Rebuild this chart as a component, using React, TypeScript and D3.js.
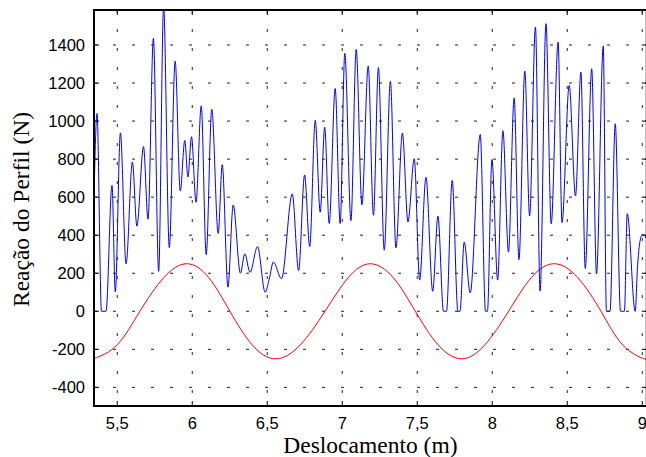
import React, { useEffect, useRef } from "react";
import * as d3 from "d3";

const reactionX = [
  5.343, 5.365, 5.395, 5.425, 5.465, 5.487, 5.521, 5.559, 5.601, 5.631,
  5.675, 5.705, 5.741, 5.776, 5.809, 5.847, 5.886, 5.92, 5.95, 5.971,
  5.995, 6.025, 6.06, 6.093, 6.13, 6.173, 6.2, 6.238, 6.273, 6.321,
  6.35, 6.385, 6.435, 6.486, 6.513, 6.541, 6.595, 6.667, 6.709, 6.749,
  6.783, 6.82, 6.853, 6.883, 6.913, 6.953, 6.986, 7.017, 7.058, 7.093,
  7.131, 7.173, 7.208, 7.241, 7.28, 7.321, 7.358, 7.401, 7.438, 7.48,
  7.516, 7.558, 7.603, 7.638, 7.675, 7.695, 7.733, 7.771, 7.785, 7.813,
  7.853, 7.92, 7.955, 7.968, 7.998, 8.036, 8.071, 8.108, 8.146, 8.178,
  8.217, 8.249, 8.288, 8.319, 8.358, 8.393, 8.439, 8.465, 8.513, 8.555,
  8.591, 8.62, 8.663, 8.695, 8.74, 8.761, 8.785, 8.82, 8.855, 8.881,
  8.9, 8.953, 8.969, 8.989, 9.004, 9.025,
];
const reactionY = [
  519, 1040, 0, 0, 662, 102, 938, 249, 785, 448,
  866, 484, 1435, 210, 1600, 335, 1315, 632, 898, 706,
  918, 573, 1080, 298, 1062, 409, 771, 127, 559, 200,
  302, 205, 340, 100, 168, 259, 171, 617, 214, 717,
  340, 1004, 521, 968, 462, 1171, 461, 1356, 477, 1377,
  560, 1290, 505, 1281, 321, 1209, 333, 937, 470, 802,
  164, 705, 105, 500, 0, 0, 688, 0, 0, 364,
  97, 929, 0, 0, 798, 164, 949, 311, 1122, 272,
  1263, 501, 1495, 106, 1512, 460, 1415, 466, 1188, 606,
  1258, 225, 1275, 196, 1394, 0, 0, 986, 0, 0,
  513, 0, 242, 383, 405, 385,
];

// profile curve (red)
const profileX = [
  5.34, 5.5, 5.651, 5.81, 5.963, 6.11, 6.251, 6.4, 6.556, 6.72,
  6.885, 7.04, 7.187, 7.34, 7.487, 7.64, 7.796, 7.95, 8.109, 8.26,
  8.413, 8.57, 8.725, 8.87, 9.013, 9.04,
];
const profileY = [
  -250, -176, 0, 177, 250, 177, 0, -177, -250, -177,
  0, 177, 250, 177, 0, -177, -250, -177, 0, 177,
  250, 177, 0, -177, -250, -248,
];

const xTicks = [5.5, 6, 6.5, 7, 7.5, 8, 8.5, 9];
const yTicks = [-400, -200, 0, 200, 400, 600, 800, 1000, 1200, 1400];

const W = 646;
const H = 457;
const left = 94;
const right = 646.75;
const top = 10;
const bottom = 406;

export default function App() {
  const node = useRef<SVGSVGElement>(null);

  useEffect(() => {
    const svg = d3.select(node.current);
    svg.selectAll("*").remove();

    const x = d3.scaleLinear().domain([5.345, 9.03]).range([left, right]);
    const y = d3.scaleLinear().domain([-498, 1584]).range([bottom, top]);

    svg.append("rect").attr("width", W).attr("height", H).attr("fill", "#fff");

    svg
      .append("clipPath")
      .attr("id", "plot-clip")
      .append("rect")
      .attr("x", left)
      .attr("y", top)
      .attr("width", right - left)
      .attr("height", bottom - top);

    // dotted grid
    const grid = svg.append("g").attr("stroke", "#222").attr("stroke-width", 1).attr("stroke-dasharray", "3,16");
    grid
      .selectAll("line.gx")
      .data(xTicks)
      .enter()
      .append("line")
      .attr("x1", d => x(d))
      .attr("x2", d => x(d))
      .attr("y1", top)
      .attr("y2", bottom);
    grid
      .selectAll("line.gy")
      .data(yTicks)
      .enter()
      .append("line")
      .attr("x1", left)
      .attr("x2", right)
      .attr("y1", d => y(d))
      .attr("y2", d => y(d));

    const plot = svg.append("g").attr("clip-path", "url(#plot-clip)");

    const profile = d3
      .line<number>()
      .x((_, i) => x(profileX[i]))
      .y(d => y(d))
      .curve(d3.curveNatural);
    plot
      .append("path")
      .attr("d", profile(profileY))
      .attr("fill", "none")
      .attr("stroke", "#ff0000")
      .attr("stroke-width", 1);

    const reaction = d3
      .line<number>()
      .x((_, i) => x(reactionX[i]))
      .y(d => y(d))
      .curve(d3.curveMonotoneX);
    plot
      .append("path")
      .attr("d", reaction(reactionY))
      .attr("fill", "none")
      .attr("stroke", "#0000ff")
      .attr("stroke-width", 1);

    // box and inward ticks
    const axes = svg.append("g").attr("stroke", "#000");
    axes
      .append("rect")
      .attr("x", left)
      .attr("y", top)
      .attr("width", right - left)
      .attr("height", bottom - top)
      .attr("fill", "none")
      .attr("stroke-width", 2);
    xTicks.forEach(t => {
      axes.append("line").attr("x1", x(t)).attr("x2", x(t)).attr("y1", bottom).attr("y2", bottom - 5);
      axes.append("line").attr("x1", x(t)).attr("x2", x(t)).attr("y1", top).attr("y2", top + 5);
    });
    yTicks.forEach(t => {
      axes.append("line").attr("x1", left).attr("x2", left + 5).attr("y1", y(t)).attr("y2", y(t));
      axes.append("line").attr("x1", right).attr("x2", right - 5).attr("y1", y(t)).attr("y2", y(t));
    });

    const sans = "'Liberation Sans', Arial, sans-serif";
    const serif = "'Liberation Serif', 'Times New Roman', serif";

    svg
      .append("g")
      .selectAll("text")
      .data(xTicks)
      .enter()
      .append("text")
      .attr("x", d => x(d))
      .attr("y", 428.5)
      .attr("text-anchor", "middle")
      .attr("font-family", sans)
      .attr("font-size", 16.5)
      .text(d => String(d).replace(".", ","));

    svg
      .append("g")
      .selectAll("text")
      .data(yTicks)
      .enter()
      .append("text")
      .attr("x", 85)
      .attr("y", d => y(d) + 5.7)
      .attr("text-anchor", "end")
      .attr("font-family", sans)
      .attr("font-size", 16.5)
      .text(d => String(d));

    svg
      .append("text")
      .attr("x", (left + right) / 2)
      .attr("y", 453)
      .attr("text-anchor", "middle")
      .attr("font-family", serif)
      .attr("font-size", 23.5)
      .text("Deslocamento (m)");

    svg
      .append("text")
      .attr("transform", "rotate(-90)")
      .attr("x", -209.5)
      .attr("y", 29)
      .attr("text-anchor", "middle")
      .attr("font-family", serif)
      .attr("font-size", 23.5)
      .text("Reação do Perfil (N)");
  }, []);

  return (
    <svg
      ref={node}
      width={W}
      height={H}
      style={{ position: "absolute", left: 0, top: 0, display: "block" }}
    />
  );
}
